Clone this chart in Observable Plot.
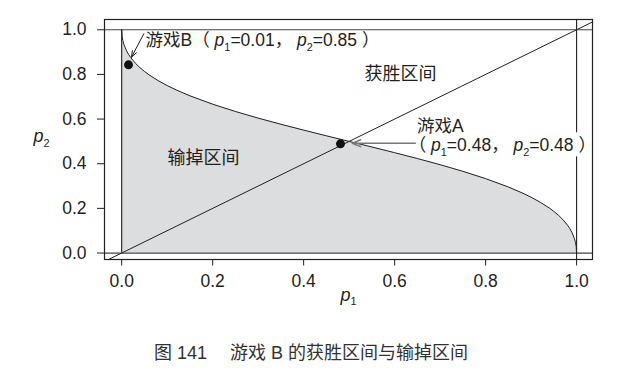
<!DOCTYPE html>
<html><head><meta charset="utf-8">
<script src="https://cdn.jsdelivr.net/npm/d3@7"></script>
<script src="https://cdn.jsdelivr.net/npm/@observablehq/plot@0.6"></script>
<style>
body{margin:0;background:#fff;}
#chart{width:622px;}
.caption{font-family:"Liberation Sans","Noto Sans CJK SC",sans-serif;font-size:18px;color:#333;text-align:center;margin-top:12px;line-height:23px;white-space:pre;}
</style></head><body><div id="chart"></div>
<script>
// Boundary curve between win / lose regions
const p1Curve = [0, 0.001, 0.0025, 0.005, 0.01, 0.015, 0.02, 0.03, 0.04, 0.05, 0.06, 0.08, 0.1, 0.12, 0.15, 0.2, 0.25, 0.3, 0.35, 0.4, 0.45, 0.5, 0.55, 0.6, 0.65, 0.7, 0.75, 0.8, 0.85, 0.88, 0.9, 0.92, 0.94, 0.95, 0.96, 0.97, 0.98, 0.985, 0.99, 0.995, 0.9975, 0.999, 1];
const p2Curve = [1, 0.969, 0.9523, 0.9338, 0.9087, 0.8901, 0.875, 0.8504, 0.8305, 0.8134, 0.7983, 0.7723, 0.75, 0.7303, 0.7042, 0.6667, 0.634, 0.6043, 0.5768, 0.5505, 0.525, 0.5, 0.475, 0.4495, 0.4232, 0.3957, 0.366, 0.3333, 0.2958, 0.2697, 0.25, 0.2277, 0.2017, 0.1866, 0.1695, 0.1496, 0.125, 0.1099, 0.0913, 0.0662, 0.0477, 0.031, 0];

const xTicks = [0, 0.2, 0.4, 0.6, 0.8, 1.0];
const yTicks = [0, 0.2, 0.4, 0.6, 0.8, 1.0];

// Games (points)
const gameNames = ["游戏B", "游戏A"];
const gameP1 = [0.015, 0.481];
const gameP2 = [0.843, 0.489];

// Reference lines
const hLines = [0, 1];
const vLineLeft = [0];
const vLineRight = [1];
const diagEnds = [-0.06, 1.06];

// Annotation texts
const labelBText = ["游戏B（ p1=0.01， p2=0.85 ）"];
const labelBX = [0.0525], labelBY = [0.952];
const labelA1Text = ["游戏A"];
const labelA1X = [0.649], labelA1Y = [0.567];
const labelA2Text = ["（ p1=0.48， p2=0.48 ）"];
const labelA2X = [0.631], labelA2Y = [0.482];
const regionNames = ["获胜区间", "输掉区间"];
const regionX = [0.613, 0.18];
const regionY = [0.80, 0.423];

// Arrows
const arrowB = {x1: [0.0486], y1: [0.982], x2: [0.0215], y2: [0.877]};
const arrowA = {x1: [0.657], y1: [0.492], x2: [0.507], y2: [0.492]};

const xLabel = ["p1"], yLabel = ["p2"];
const captionText = "图 141　 游戏 B 的获胜区间与输掉区间";

// ---- build ----
const curve = p1Curve.map((x, i) => ({x, y: p2Curve[i]}));
const games = gameNames.map((n, i) => ({n, x: gameP1[i], y: gameP2[i]}));
const diag = diagEnds.map(v => ({x: v, y: v}));
const regions = regionNames.map((t, i) => ({t, x: regionX[i], y: regionY[i]}));
const ink = "#231f20";
const arrB = arrowB.x1.map((_, i) => ({x1: arrowB.x1[i], y1: arrowB.y1[i], x2: arrowB.x2[i], y2: arrowB.y2[i]}));
const arrA = arrowA.x1.map((_, i) => ({x1: arrowA.x1[i], y1: arrowA.y1[i], x2: arrowA.x2[i], y2: arrowA.y2[i]}));

const plot = Plot.plot({
  width: 622, height: 330,
  marginLeft: 104, marginRight: 30, marginTop: 19, marginBottom: 71,
  style: {fontFamily: '"Liberation Sans","Noto Sans CJK SC",sans-serif', fontSize: "17.5px", color: ink, background: "white"},
  x: {domain: [-0.0378, 1.035], ticks: xTicks, tickFormat: d3.format(".1f"), tickSize: 6.5, tickPadding: 9, label: null},
  y: {domain: [-0.029, 1.046], ticks: yTicks, tickFormat: d3.format(".1f"), tickSize: 7, tickPadding: 11, label: null},
  marks: [
    Plot.areaY(curve, {x: "x", y: "y", fill: "#dcdddf", curve: "linear"}),
    Plot.line(curve, {x: "x", y: "y", stroke: ink, strokeWidth: 1, curve: "linear"}),
    Plot.ruleY(hLines, {stroke: "#444", strokeWidth: 1.2}),
    Plot.ruleX(vLineLeft, {y1: 0, y2: 1, stroke: ink, strokeWidth: 1.1}),
    Plot.ruleX(vLineRight, {stroke: ink, strokeWidth: 1.1}),
    Plot.line(diag, {x: "x", y: "y", stroke: ink, strokeWidth: 1, clip: true}),
    Plot.frame({stroke: ink, strokeWidth: 1.2}),
    Plot.dot(games, {x: "x", y: "y", r: 4.5, fill: "#111", stroke: "none"}),
    Plot.arrow(arrB, {x1: "x1", y1: "y1", x2: "x2", y2: "y2", stroke: ink, strokeWidth: 1, headLength: 10, headAngle: 40}),
    Plot.arrow(arrA, {x1: "x1", y1: "y1", x2: "x2", y2: "y2", stroke: "#777", strokeWidth: 1.5, headLength: 9, headAngle: 45}),
    Plot.text(regions, {x: "x", y: "y", text: "t", fontSize: 18, fill: ink}),
    Plot.text(labelBText, {x: labelBX, y: labelBY, text: d => d, textAnchor: "start", fontSize: 17.5, fill: ink}),
    Plot.text(labelA1Text, {x: labelA1X, y: labelA1Y, text: d => d, textAnchor: "start", fontSize: 17.5, fill: ink}),
    Plot.text(labelA2Text, {x: labelA2X, y: labelA2Y, text: d => d, textAnchor: "start", fontSize: 17.5, fill: "white", stroke: "white", strokeWidth: 10, ariaHidden: "true"}),
    Plot.text(labelA2Text, {x: labelA2X, y: labelA2Y, text: d => d, textAnchor: "start", fontSize: 17.5, fill: ink}),
    Plot.text(xLabel, {frameAnchor: "bottom", textAnchor: "middle", dy: 41, text: d => d, fontSize: 18, fill: ink}),
    Plot.text(yLabel, {frameAnchor: "left", textAnchor: "middle", dx: -63, dy: -3, text: d => d, fontSize: 18, fill: ink})
  ]
});

// Rich text: italic p with subscript digit
const NS = "http://www.w3.org/2000/svg";
plot.querySelectorAll("text").forEach(t => {
  const s = t.textContent;
  if (!/p[12]/.test(s) || t.querySelector("tspan")) return;
  const fs = parseFloat(getComputedStyle(t).fontSize) || 17.5;
  const shift = fs * 0.28;
  t.textContent = "";
  let down = false;
  for (const part of s.split(/(p[12])/)) {
    if (!part) continue;
    const m = part.match(/^p([12])$/);
    if (m) {
      const tp = document.createElementNS(NS, "tspan");
      tp.setAttribute("font-style", "italic");
      tp.textContent = "p";
      if (down) { tp.setAttribute("dy", -shift); down = false; }
      t.appendChild(tp);
      const sb = document.createElementNS(NS, "tspan");
      sb.setAttribute("font-size", fs * 0.62);
      sb.setAttribute("dy", shift);
      sb.textContent = m[1];
      t.appendChild(sb);
      down = true;
    } else {
      const tp = document.createElementNS(NS, "tspan");
      if (down) { tp.setAttribute("dy", -shift); down = false; }
      tp.textContent = part;
      t.appendChild(tp);
    }
  }
});

const chart = document.getElementById("chart");
chart.appendChild(plot);
const cap = document.createElement("div");
cap.className = "caption";
cap.textContent = captionText;
chart.appendChild(cap);
</script>
</body></html>
